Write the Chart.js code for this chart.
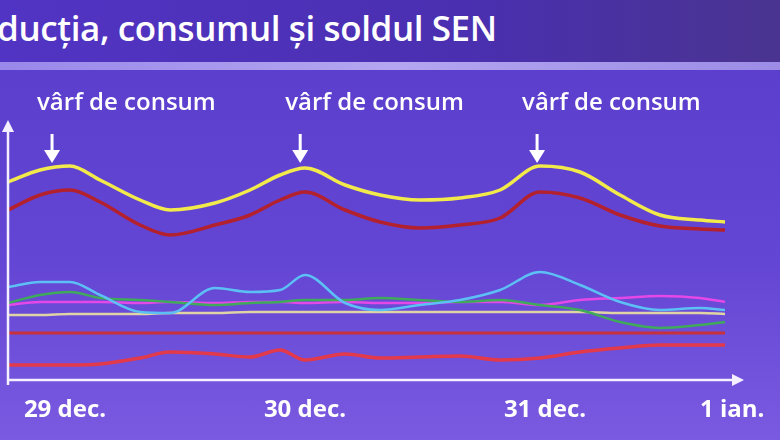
<!DOCTYPE html>
<html><head><meta charset="utf-8">
<script src="https://cdn.jsdelivr.net/npm/chart.js@4"></script>
<style>
html,body{margin:0;padding:0;width:780px;height:440px;overflow:hidden;}
body{background:linear-gradient(180deg,#5a3ccc 0%,#6446d4 60%,#7a5ae0 100%);position:relative;font-family:"Open Sans",sans-serif;}
#band{position:absolute;left:0;top:0;width:780px;height:62px;background:linear-gradient(90deg,#5234c4 0%,#4a2fb0 60%,#4a3490 100%);}
#stripe{position:absolute;left:0;top:62px;width:780px;height:8px;background:linear-gradient(90deg,#9a88ea,#b4a6f0,#9c8ce6);}
#title{position:absolute;left:-3px;top:4px;color:#fff;font:600 35px "Open Sans",sans-serif;white-space:nowrap;letter-spacing:-0.4px;}
#wrap{position:absolute;left:0;top:0;width:780px;height:440px;}
</style></head><body>
<div id="band"></div><div id="stripe"></div>
<div id="title">ducția, consumul și soldul SEN</div>
<div id="wrap"><canvas id="c" width="780" height="440"></canvas></div>
<script>
// x positions in days since 29 dec
const xDays = [-0.2375,-0.104,0.021,0.146,0.313,0.438,0.625,0.771,0.896,1.0,1.167,1.313,1.479,1.646,1.813,1.979,2.146,2.313,2.479,2.646,2.75];
const tickValues = [0,1,2,2.78];
const tickLabels = ["29 dec.","30 dec.","31 dec.","1 ian."];
const peakDays = [-0.054,0.98,1.967];
const peakLabel = "vârf de consum";
const consum   = [218,230,234,220,200,190,197,210,225,232,215,205,200,202,210,234,228,205,185,180,178];
const productie= [190,205,210,198,175,165,175,185,200,208,190,178,172,175,182,208,202,185,174,171,170];
const hidro    = [113,118,118,105,88,87,112,108,110,125,97,90,95,100,110,128,115,98,90,92,90];
const carbune  = [97,105,108,102,100,98,95,97,98,100,100,102,100,98,100,95,90,78,72,75,78];
const eolian   = [95,98,98,98,97,98,97,98,98,97,98,97,97,98,98,95,100,102,104,102,98];
const nuclear  = [85,85,86,86,86,87,87,88,88,88,88,88,88,88,88,88,88,87,87,87,86];
const hidrocarb= [67,67,67,67,67,67,67,67,67,67,67,67,67,67,67,67,67,67,67,67,67];
const sold     = [35,35,35,36,42,48,46,43,50,40,46,42,43,44,40,42,48,52,55,55,55];
const series = [
 [consum,'#f2ea4a',3.5],[productie,'#b3202e',3.5],[hidro,'#5cc0f4',2.5],[carbune,'#3faa5a',2.5],
 [eolian,'#e448e6',2.5],[nuclear,'#e0d4a4',2.5],[hidrocarb,'#c8303a',3],[sold,'#e23a4a',3.5]
];
const overlay = {
 id:'overlay',
 afterDraw(ch){
  const c=ch.ctx,x=ch.scales.x,y=ch.scales.y,a=ch.chartArea;
  c.save();
  c.strokeStyle='#f4f0ff';c.fillStyle='#f4f0ff';c.lineWidth=2.5;
  c.beginPath();c.moveTo(a.left,a.bottom);c.lineTo(a.left,a.top);c.moveTo(a.left,a.bottom-5);c.lineTo(a.right-6,a.bottom-5);c.stroke();
  c.beginPath();c.moveTo(a.left-6,a.top+2);c.lineTo(a.left,a.top-10);c.lineTo(a.left+6,a.top+2);c.fill();
  c.beginPath();c.moveTo(a.right-8,a.bottom-11);c.lineTo(a.right+4,a.bottom-5);c.lineTo(a.right-8,a.bottom+1);c.fill();
  c.fillStyle='#fff';c.font='bold 24px "Open Sans"';c.textAlign='center';c.textBaseline='middle';
  tickValues.forEach((v,i)=>c.fillText(tickLabels[i],x.getPixelForValue(v),410));
  c.font='600 24px "Open Sans"';c.textAlign='left';
  peakDays.forEach(d=>{
   const px=x.getPixelForValue(d);
   c.fillText(peakLabel,px-15,103);
   c.strokeStyle='#fff';c.lineWidth=3;
   c.beginPath();c.moveTo(px,134);c.lineTo(px,154);c.stroke();
   c.beginPath();c.moveTo(px-8,150);c.lineTo(px,163);c.lineTo(px+8,150);c.fill();
  });
  c.restore();
 }
};
new Chart(document.getElementById('c'),{
 type:'line',
 data:{datasets:series.map(s=>({data:s[0].map((v,i)=>({x:xDays[i],y:v})),borderColor:s[1],borderWidth:s[2],pointRadius:0,tension:0.4,cubicInterpolationMode:'monotone'}))},
 options:{responsive:false,animation:false,events:[],
  layout:{padding:{left:8,right:40,top:130,bottom:55}},
  plugins:{legend:{display:false},tooltip:{enabled:false}},
  scales:{x:{type:'linear',min:-0.2375,max:2.8125,display:false},y:{min:15,max:270,display:false}}
 },
 plugins:[overlay]
});
</script></body></html>
